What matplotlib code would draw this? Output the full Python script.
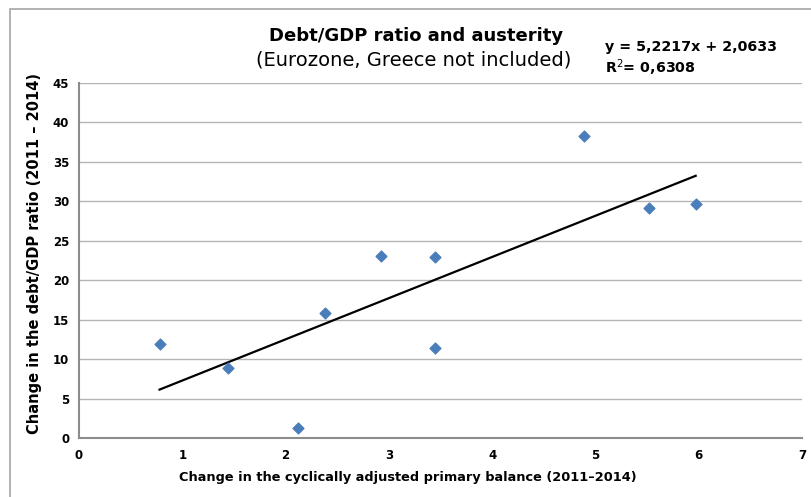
import matplotlib.pyplot as plt
from matplotlib.patches import Rectangle

# データ
cap_change = [0.78, 1.44, 2.12, 2.38, 2.92, 3.45, 3.45, 4.885, 5.515, 5.97]
debt_change = [11.95, 8.9, 1.3, 15.85, 23.1, 22.9, 11.45, 38.3, 29.15, 29.65]

# trendline from the equation shown in the chart
slope = 5.2217
intercept = 2.0633
x_ticks = [0, 1, 2, 3, 4, 5, 6, 7]
y_ticks = [0, 5, 10, 15, 20, 25, 30, 35, 40, 45]

plt.rcParams["font.family"] = "DejaVu Sans"

fig = plt.figure(figsize=(8.11, 4.97), dpi=100)
ax = fig.add_axes([0.0974, 0.1187, 0.8916, 0.7143])

# outer chart border (only left/top visible in the crop)
fig.patches.append(Rectangle((10 / 811, -0.1), 1.2, 0.1 + (497 - 9) / 497,
                             transform=fig.transFigure, fill=False,
                             edgecolor='#a6a6a6', linewidth=1.2))

ax.scatter(cap_change, debt_change, marker='D', s=30, color='#4a7ebb', zorder=3)

x_fit = [min(cap_change), max(cap_change)]
y_fit = [slope * v + intercept for v in x_fit]
ax.plot(x_fit, y_fit, color='black', linewidth=1.6, zorder=2)

ax.set_xlim(0, 7)
ax.set_ylim(0, 45)
ax.set_xticks(x_ticks)
ax.set_yticks(y_ticks)
ax.tick_params(axis='both', length=0, labelsize=8.5)
ax.tick_params(axis='x', pad=8)
ax.tick_params(axis='y', pad=7)
for lbl in ax.get_xticklabels() + ax.get_yticklabels():
    lbl.set_fontweight('bold')

ax.grid(True, axis='y', color='#b4b4b4', linewidth=1.0)
ax.set_axisbelow(True)
for side in ['top', 'right']:
    ax.spines[side].set_visible(False)
for side in ['left', 'bottom']:
    ax.spines[side].set_color('#8c8c8c')
    ax.spines[side].set_linewidth(1.5)

# 軸ラベル
fig.text(408 / 811, 1 - 477 / 497,
         'Change in the cyclically adjusted primary balance (2011\u20132014)',
         ha='center', va='center', fontsize=9.3, fontweight='bold')
fig.text(35 / 811, 1 - 253 / 497, 'Change in the debt/GDP ratio (2011 \u2013 2014)',
         ha='center', va='center', rotation=90, fontsize=10.5, fontweight='bold')

# タイトル
fig.text(416 / 811, 1 - 36 / 497, 'Debt/GDP ratio and austerity', ha='center', va='center',
         fontsize=13, fontweight='bold')
fig.text(414 / 811, 1 - 60 / 497, '(Eurozone, Greece not included)', ha='center', va='center',
         fontsize=14)
fig.text(605 / 811, 1 - 47 / 497, 'y = 5,2217x + 2,0633', ha='left', va='center',
         fontsize=10.3, fontweight='bold')
fig.text(605 / 811, 1 - 68 / 497, 'R$^2$= 0,6308', ha='left', va='center',
         fontsize=10.3, fontweight='bold')

fig.savefig('out.png', dpi=100)
